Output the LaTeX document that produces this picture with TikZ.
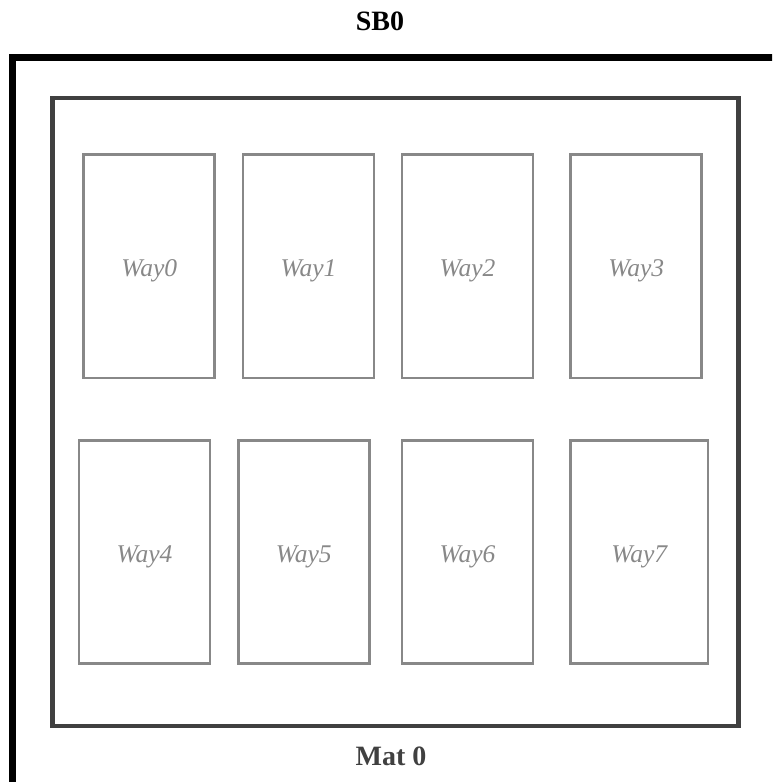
\documentclass[tikz,border=0pt]{standalone}
\usepackage{fontspec}
\setmainfont{Liberation Serif}

\definecolor{waygray}{HTML}{888888}
\definecolor{matgray}{HTML}{404040}

\tikzset{
  way/.style={draw=waygray, line width=2.7pt, inner sep=0pt,
    minimum width=131pt, minimum height=223.5pt, text=waygray,
    text height=21pt, text depth=0pt,
    font=\fontsize{25.5}{28}\selectfont\itshape},
  title/.style={font=\fontsize{28}{32}\selectfont\bfseries}
}

\begin{document}
\begin{tikzpicture}[x=1pt, y=-1pt]
\clip (0,0) rectangle (772,782);
% SB and mat frames
\draw[line width=7pt] (12.5,57.5) rectangle (776,785);
\draw[matgray, line width=4.5pt] (52.5,98) rectangle (738.5,726);
\node[title] (sb) at (380,21) {SB0};
\node[title, text=matgray] (mat) at (391,756) {Mat 0};
% ways, top row
\node[way] (w0) at (149.25,266.25) {Way0};
\node[way] (w1) at (308.5,266.25) {Way1};
\node[way] (w2) at (467.5,266.25) {Way2};
\node[way] (w3) at (636.25,266.25) {Way3};
% ways, bottom row
\node[way] (w4) at (144.5,552) {Way4};
\node[way] (w5) at (303.75,552) {Way5};
\node[way] (w6) at (467.5,552) {Way6};
\node[way, minimum width=137.5pt] (w7) at (639.25,552) {Way7};
\end{tikzpicture}
\end{document}
